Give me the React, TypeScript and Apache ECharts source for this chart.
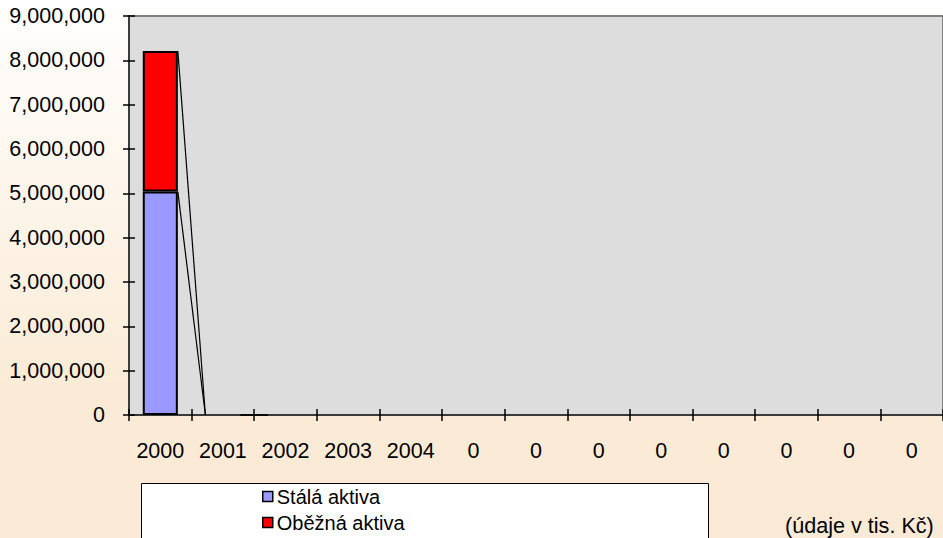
import React, { useEffect, useRef } from "react";
import * as echarts from "echarts";

const categories = ["2000", "2001", "2002", "2003", "2004", "0", "0", "0", "0", "0", "0", "0", "0"];
const stalaAktiva: (number | null)[] = [5040000, 0, 0, null, null, null, null, null, null, null, null, null, null];
const obeznaAktiva: (number | null)[] = [3170000, 0, 0, null, null, null, null, null, null, null, null, null, null];
const yTicks = { min: 0, max: 9000000, interval: 1000000 };
const seriesNames = ["Stálá aktiva", "Oběžná aktiva"];
const note = "(údaje v tis. Kč)";

const BAR_FRAC = 0.56;
const FONT = "'Liberation Sans', Arial, sans-serif";

const toBarData = (arr: (number | null)[]) =>
  arr.map((v) => (v === 0 ? { value: 0, itemStyle: { borderWidth: 0 } } : v));

export default function App() {
  const ref = useRef<HTMLDivElement>(null);
  useEffect(() => {
    if (!ref.current) return;
    const chart = echarts.init(ref.current, null, { renderer: "svg" });

    const segs: number[][] = [];
    for (let i = 0; i < categories.length - 1; i++) {
      const a1 = stalaAktiva[i], b1 = obeznaAktiva[i];
      const a2 = stalaAktiva[i + 1], b2 = obeznaAktiva[i + 1];
      if (a1 != null && b1 != null && a2 != null && b2 != null) {
        segs.push([i, a1, a1 + b1, a2, a2 + b2]);
      }
    }

    const axisLine = { color: "#3A3A3A", width: 2 };
    const tickStyle = { color: "#000", width: 1.5 };

    chart.setOption({
      animation: false,
      backgroundColor: {
        type: "linear", x: 0, y: 0, x2: 0, y2: 1,
        colorStops: [
          { offset: 0, color: "#FFFFFF" },
          { offset: 0.72, color: "#FBEBD6" },
          { offset: 1, color: "#FBEBD6" },
        ],
      },
      textStyle: { fontFamily: FONT },
      grid: {
        left: 129, right: -2, top: 16, bottom: 123,
        show: true, backgroundColor: "#DDDDDD", borderColor: "#808080", borderWidth: 2,
      },
      legend: {
        orient: "vertical",
        left: 262, top: 486,
        itemWidth: 10, itemHeight: 10, itemGap: 5,
        icon: "rect",
        padding: 0,
        textStyle: { fontSize: 20, color: "#000", fontFamily: FONT, lineHeight: 21, padding: [0, 0, 0, -1] },
        itemStyle: { borderColor: "#000", borderWidth: 1.5 },
        data: seriesNames,
      },
      xAxis: [
        {
          type: "category", data: categories,
          axisLine: { lineStyle: axisLine },
          axisTick: { show: true, length: 6, inside: false, lineStyle: tickStyle },
          axisLabel: { fontSize: 21.5, color: "#000", margin: 25, fontFamily: FONT },
          splitLine: { show: false },
        },
        {
          type: "category", data: categories, position: "bottom",
          axisLine: { show: false },
          axisTick: { show: true, length: 6, inside: true, lineStyle: tickStyle },
          axisLabel: { show: false },
        },
      ],
      yAxis: [
        {
          type: "value", ...yTicks,
          axisLine: { show: true, lineStyle: axisLine },
          axisTick: { show: true, length: 6, inside: false, lineStyle: tickStyle },
          axisLabel: {
            fontSize: 21.5, color: "#000", margin: 24, fontFamily: FONT,
            formatter: (v: number) => v.toLocaleString("en-US"),
          },
          splitLine: { show: false },
        },
        {
          type: "value", ...yTicks, position: "left",
          axisLine: { show: false },
          axisTick: { show: true, length: 6, inside: true, lineStyle: tickStyle },
          axisLabel: { show: false },
          splitLine: { show: false },
        },
      ],
      graphic: [
        {
          type: "rect", left: 141, top: 483, z: 0,
          shape: { width: 567, height: 60 },
          style: { fill: "#FFFFFF", stroke: "#000", lineWidth: 1 },
        },
        {
          type: "text", left: 785, top: 514, z: 5,
          style: { text: note, fill: "#000", font: `21.6px ${FONT}` },
        },
      ],
      series: [
        {
          name: seriesNames[0], type: "bar", stack: "a", data: toBarData(stalaAktiva),
          barWidth: `${BAR_FRAC * 100}%`,
          itemStyle: { color: "#9999FF", borderColor: "#000", borderWidth: 2 },
          z: 3,
        },
        {
          name: seriesNames[1], type: "bar", stack: "a", data: toBarData(obeznaAktiva),
          barWidth: `${BAR_FRAC * 100}%`,
          itemStyle: { color: "#FF0000", borderColor: "#000", borderWidth: 2 },
          z: 3,
        },
        {
          type: "custom", name: "serieslines", data: segs, z: 4, silent: true,
          encode: { x: 0, y: [1, 2] },
          renderItem: (params: any, api: any) => {
            const i = api.value(0);
            const half = (api.size([1, 0])[0] * BAR_FRAC) / 2;
            const mk = (v1: number, v2: number) => {
              const p1 = api.coord([i, v1]);
              const p2 = api.coord([i + 1, v2]);
              return {
                type: "line",
                shape: { x1: p1[0] + half, y1: p1[1], x2: p2[0] - half, y2: p2[1] },
                style: { stroke: "#000", lineWidth: 1.2 },
              };
            };
            return {
              type: "group",
              children: [mk(api.value(1), api.value(3)), mk(api.value(2), api.value(4))],
            };
          },
        },
      ],
    });
    return () => chart.dispose();
  }, []);
  return <div ref={ref} style={{ position: "fixed", left: 0, top: 0, width: 943, height: 538 }} />;
}
